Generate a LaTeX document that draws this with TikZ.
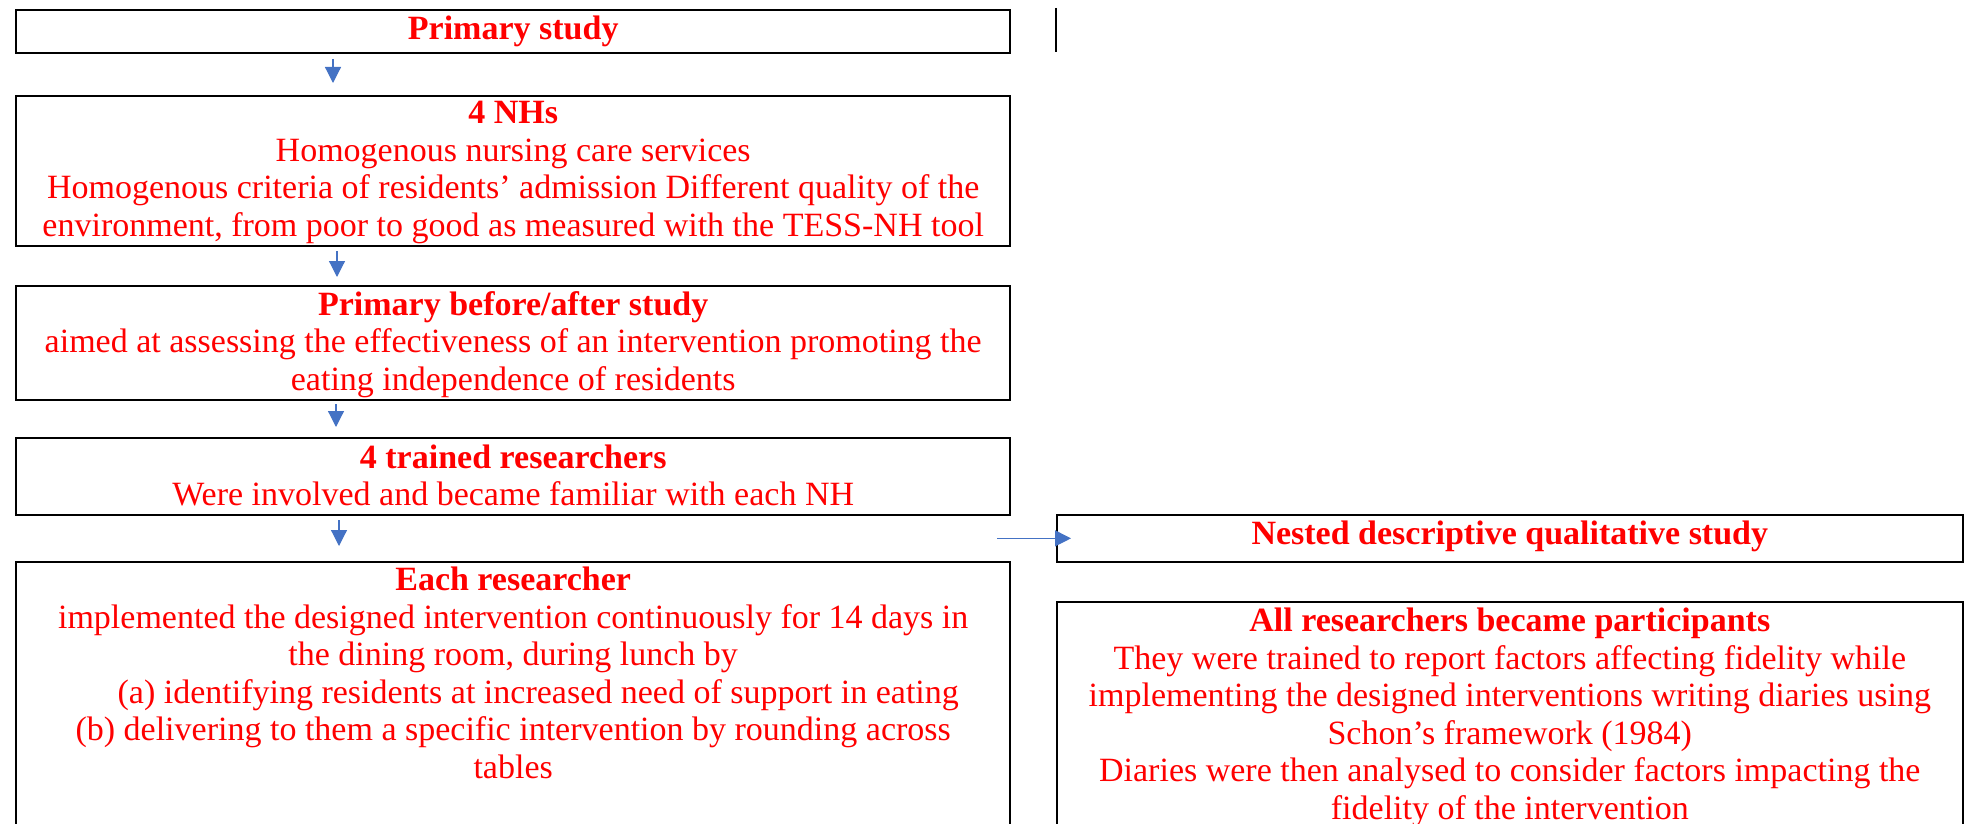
\documentclass[tikz,border=0pt]{standalone}
\usepackage{fontspec}
\setmainfont{Liberation Serif}
\usetikzlibrary{arrows.meta}
\definecolor{flowred}{HTML}{FF0000}
\definecolor{flowblue}{HTML}{4472C4}
\newcommand{\boxlines}[2]{\parbox[t]{#1}{\centering #2}}
\tikzset{
  box/.style={draw=black, line width=2pt, inner sep=0pt, anchor=north west},
  txt/.style={inner sep=0pt, anchor=base, text=flowred,
    font=\fontsize{34}{37.5}\selectfont},
  flowarrow/.style={draw=flowblue, line width=1.2pt, -{Triangle[length=16pt,width=16pt]}},
}
\begin{document}
\begin{tikzpicture}[x=1pt,y=1pt]
\useasboundingbox (0,0) rectangle (1968,-824);
\clip (0,0) rectangle (1968,-824);

% left column: primary study
\node[box, minimum width=993.6pt, minimum height=43pt]  (b1) at (15.4,-9)   {};
\node[box, minimum width=993.6pt, minimum height=150pt] (b2) at (15.4,-95)  {};
\node[box, minimum width=993.6pt, minimum height=114pt] (b3) at (15.4,-285) {};
\node[box, minimum width=993.6pt, minimum height=77pt]  (b4) at (15.4,-437) {};
\node[box, minimum width=993.6pt, minimum height=300pt] (b5) at (15.4,-561) {};

% right column: nested study
\node[box, minimum width=906.4pt, minimum height=47.3pt] (n1) at (1055.6,-513.7) {};
\node[box, minimum width=906.4pt, minimum height=260pt]  (n2) at (1055.6,-601)   {};
\coordinate (mtop) at (1056,-8);
\coordinate (mbot) at (1056,-52);
\draw[line width=2pt] (mtop) -- (mbot);

% box texts (first baseline about 30pt below each box top)
\node[txt] (t1) at ([yshift=-31pt]b1.north) {\boxlines{980pt}{\textbf{Primary study}}};
\node[txt] (t2) at ([yshift=-29pt]b2.north) {\boxlines{980pt}{\textbf{4 NHs}\\
  Homogenous nursing care services\\
  Homogenous criteria of residents’ admission Different quality of the\\
  environment, from poor to good as measured with the TESS-NH tool}};
\node[txt] (t3) at ([yshift=-30pt]b3.north) {\boxlines{980pt}{\textbf{Primary before/after study}\\
  aimed at assessing the effectiveness of an intervention promoting the\\
  eating independence of residents}};
\node[txt] (t4) at ([yshift=-31pt]b4.north) {\boxlines{980pt}{\textbf{4 trained researchers}\\
  Were involved and became familiar with each NH}};
\node[txt] (t5) at ([yshift=-29.5pt]b5.north) {\boxlines{980pt}{\textbf{Each researcher}\\
  implemented the designed intervention continuously for 14 days in\\
  the dining room, during lunch by\\
  \hspace*{50pt}(a) identifying residents at increased need of support in eating\\
  (b) delivering to them a specific intervention by rounding across\\
  tables}};
\node[txt] (t6) at ([yshift=-30.5pt]n1.north) {\boxlines{890pt}{\textbf{Nested descriptive qualitative study}}};
\node[txt] (t7) at ([yshift=-30.7pt]n2.north) {\boxlines{890pt}{\textbf{All researchers became participants}\\
  They were trained to report factors affecting fidelity while\\
  implementing the designed interventions writing diaries using\\
  Schon’s framework (1984)\\
  Diaries were then analysed to consider factors impacting the\\
  fidelity of the intervention}};

% connectors
\draw[flowarrow] ([xshift=317.6pt,yshift=-5pt]b1.south west) -- ([xshift=317.6pt,yshift=12pt]b2.north west);
\draw[flowarrow] ([xshift=321.6pt,yshift=-4pt]b2.south west) -- ([xshift=321.6pt,yshift=8pt]b3.north west);
\draw[flowarrow] ([xshift=320.6pt,yshift=-3pt]b3.south west) -- ([xshift=320.6pt,yshift=10pt]b4.north west);
\draw[flowarrow] ([xshift=323.6pt,yshift=-4pt]b4.south west) -- ([xshift=323.6pt,yshift=15pt]b5.north west);
\coordinate (branch) at ([xshift=-58.3pt]n1.west);
\draw[flowarrow] (branch) -- ([xshift=15.4pt]n1.west);
\end{tikzpicture}
\end{document}
